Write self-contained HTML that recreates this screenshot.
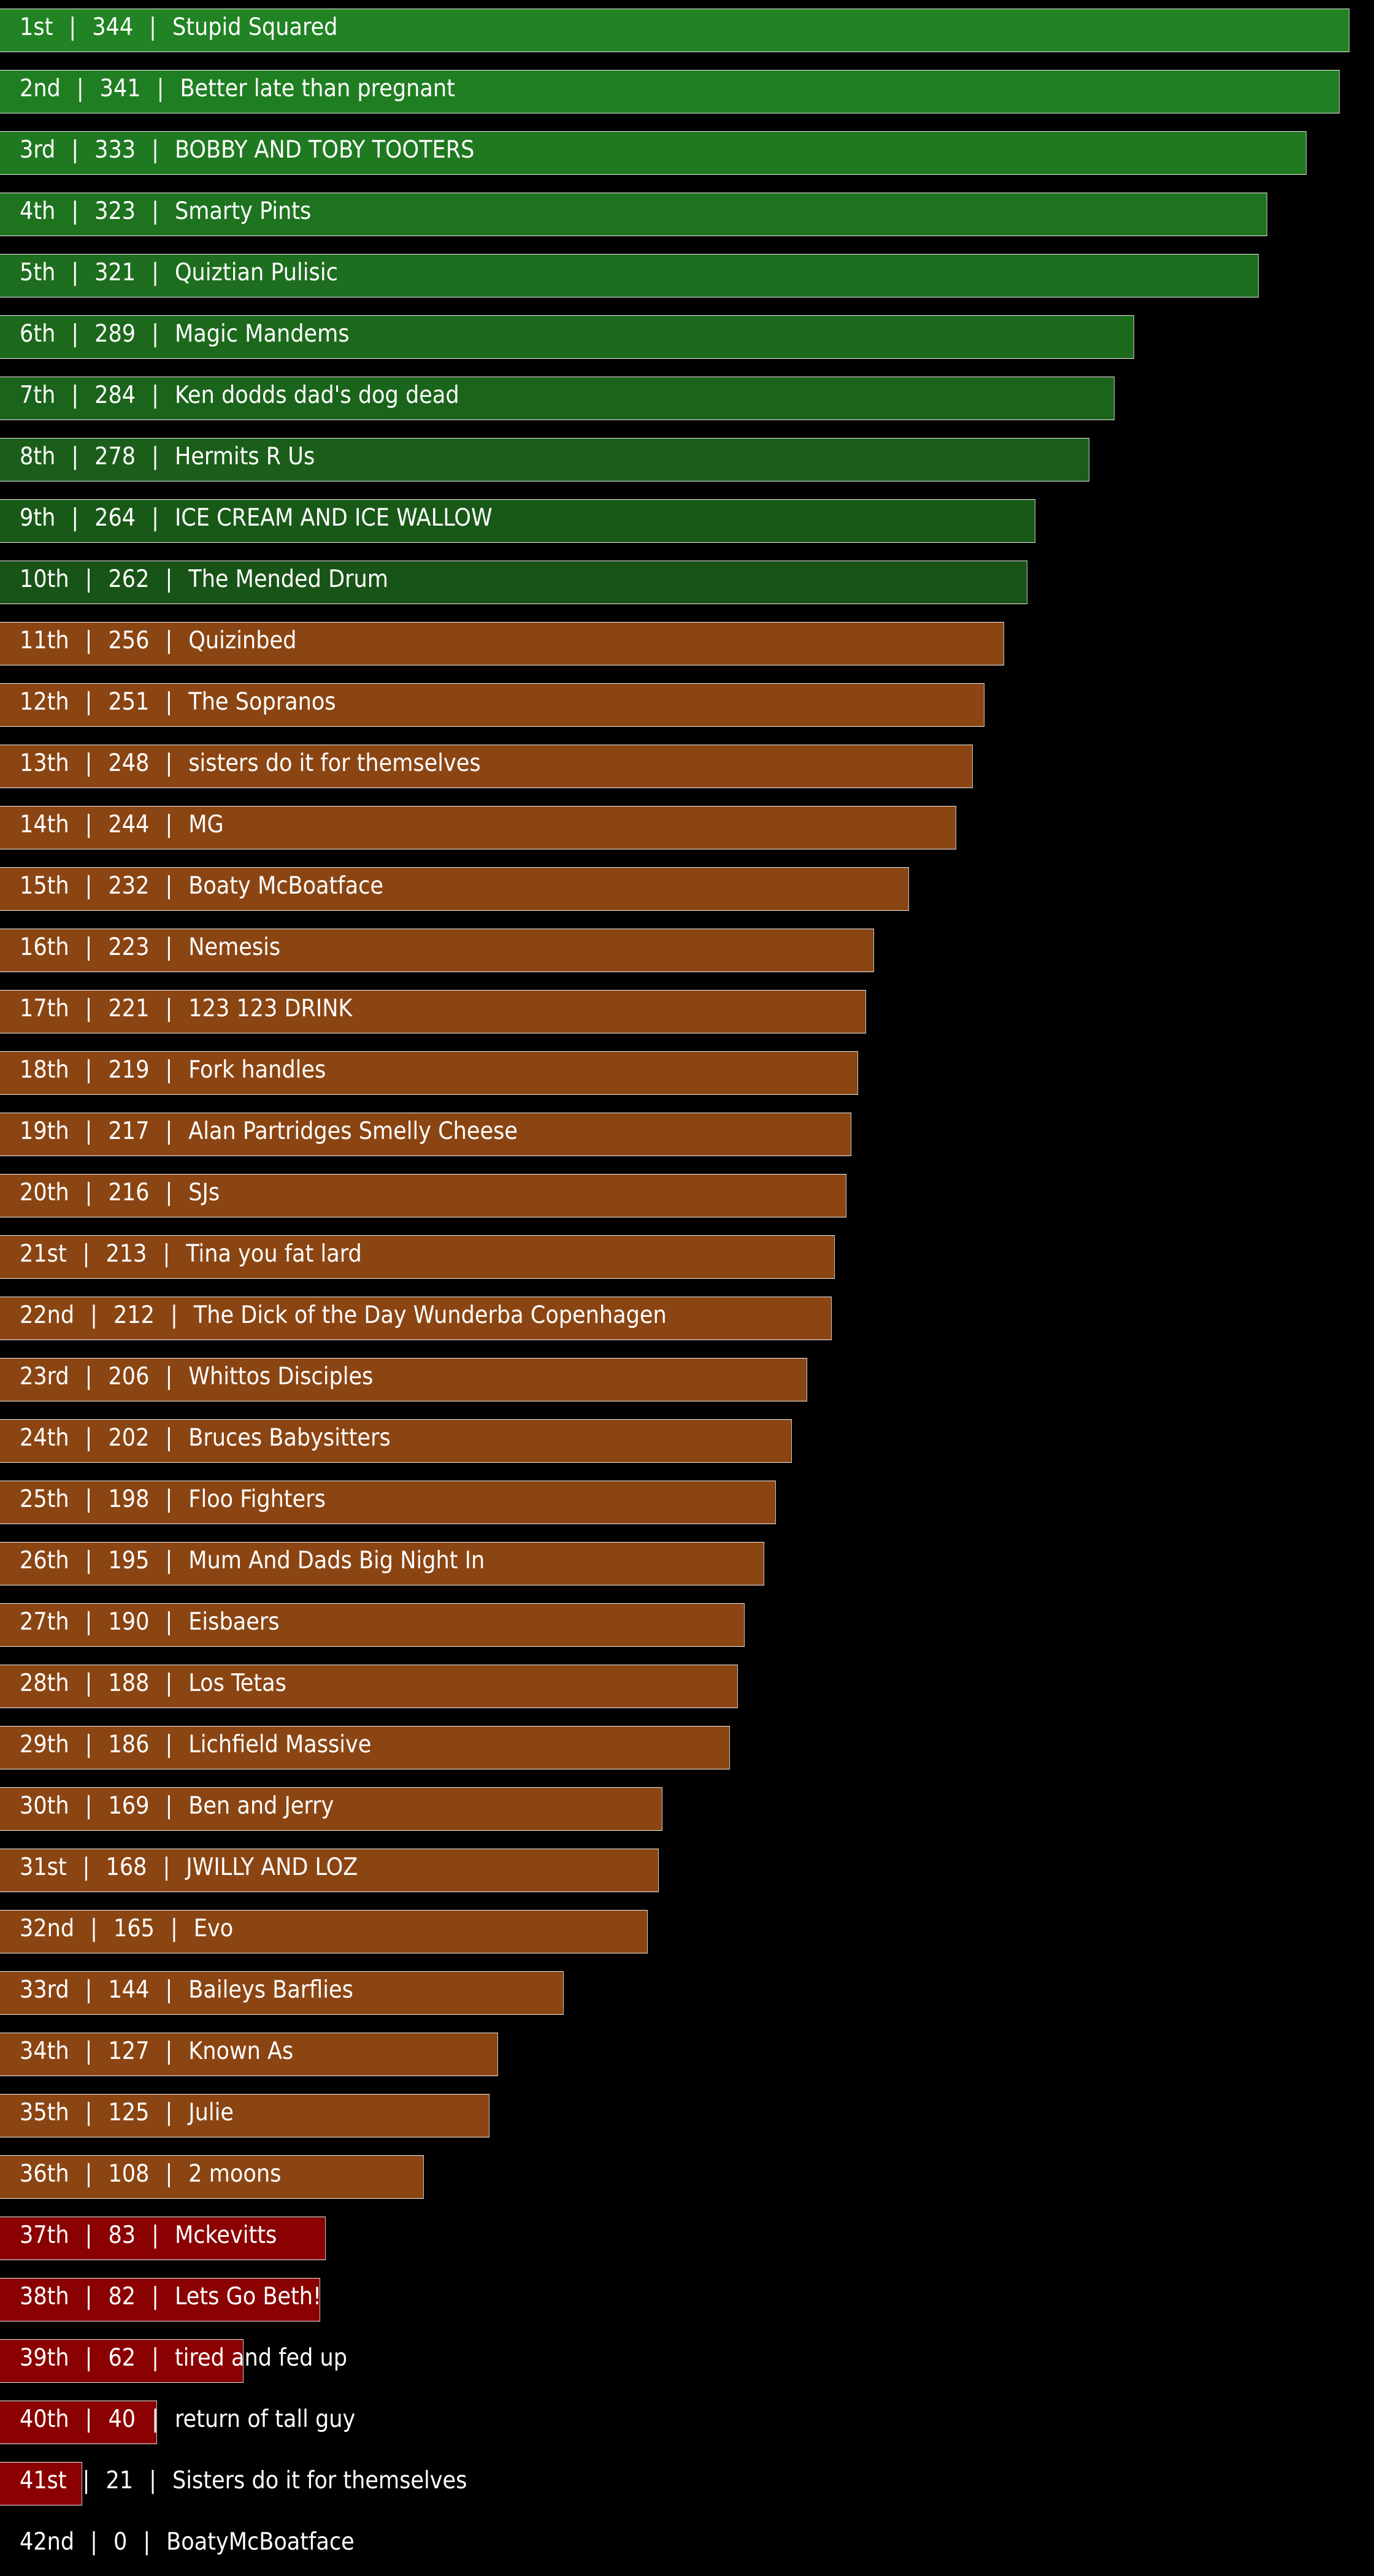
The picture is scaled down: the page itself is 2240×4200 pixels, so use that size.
<!DOCTYPE html>
<html><head><meta charset="utf-8"><style>
html,body{margin:0;padding:0;background:#000;}
body{width:2240px;height:4200px;position:relative;overflow:hidden;font-family:"DejaVu Sans","Liberation Sans",sans-serif;font-stretch:condensed;}
.b{position:absolute;left:-2px;height:69px;border:1.5px solid #f0f0f0;border-right-color:#c8c8c8;box-sizing:content-box;}
.t{position:absolute;left:32px;height:72px;line-height:62px;color:#fff;font-size:39px;white-space:pre;font-stretch:condensed;}
.t i{font-style:normal;display:inline-block;margin:0 26px;}
</style></head><body>
<div id="c"></div>
<script>
(function(){
var d=[["1st",344,"Stupid Squared",821],["2nd",341,"Better late than pregnant",815],["3rd",333,"BOBBY AND TOBY TOOTERS",795],["4th",323,"Smarty Pints",771],["5th",321,"Quiztian Pulisic",766],["6th",289,"Magic Mandems",690],["7th",284,"Ken dodds dad's dog dead",678],["8th",278,"Hermits R Us",663],["9th",264,"ICE CREAM AND ICE WALLOW",630],["10th",262,"The Mended Drum",625],["11th",256,"Quizinbed",611],["12th",251,"The Sopranos",599],["13th",248,"sisters do it for themselves",592],["14th",244,"MG",582],["15th",232,"Boaty McBoatface",553],["16th",223,"Nemesis",532],["17th",221,"123 123 DRINK",527],["18th",219,"Fork handles",522],["19th",217,"Alan Partridges Smelly Cheese",518],["20th",216,"SJs",515],["21st",213,"Tina you fat lard",508],["22nd",212,"The Dick of the Day Wunderba Copenhagen",506],["23rd",206,"Whittos Disciples",491],["24th",202,"Bruces Babysitters",482],["25th",198,"Floo Fighters",472],["26th",195,"Mum And Dads Big Night In",465],["27th",190,"Eisbaers",453],["28th",188,"Los Tetas",449],["29th",186,"Lichfield Massive",444],["30th",169,"Ben and Jerry",403],["31st",168,"JWILLY AND LOZ",401],["32nd",165,"Evo",394],["33rd",144,"Baileys Barflies",343],["34th",127,"Known As",303],["35th",125,"Julie",298],["36th",108,"2 moons",258],["37th",83,"Mckevitts",198],["38th",82,"Lets Go Beth!",195],["39th",62,"tired and fed up",148],["40th",40,"return of tall guy",95.5],["41st",21,"Sisters do it for themselves",50],["42nd",0,"BoatyMcBoatface",0]];
var h="";
for(var i=0;i<d.length;i++){
 var r=d[i],yy=14+100*i,w=Math.round(r[3]*2.6794),col;
 if(i<10){var f=i/9;col="rgb("+Math.round(33-9*f)+","+Math.round(131-47*f)+","+Math.round(35-12*f)+")";}
 else if(i<36)col="#8b4513";else col="#8b0000";
 if(w>0)h+='<div class="b" style="top:'+yy+'px;width:'+w+'px;background:'+col+'"></div>';
 h+='<div class="t" style="top:'+yy+'px">'+r[0]+'<i>|</i>'+r[1]+'<i>|</i>'+r[2]+'</div>';
}
document.getElementById("c").innerHTML=h;
})();
</script>
</body></html>
